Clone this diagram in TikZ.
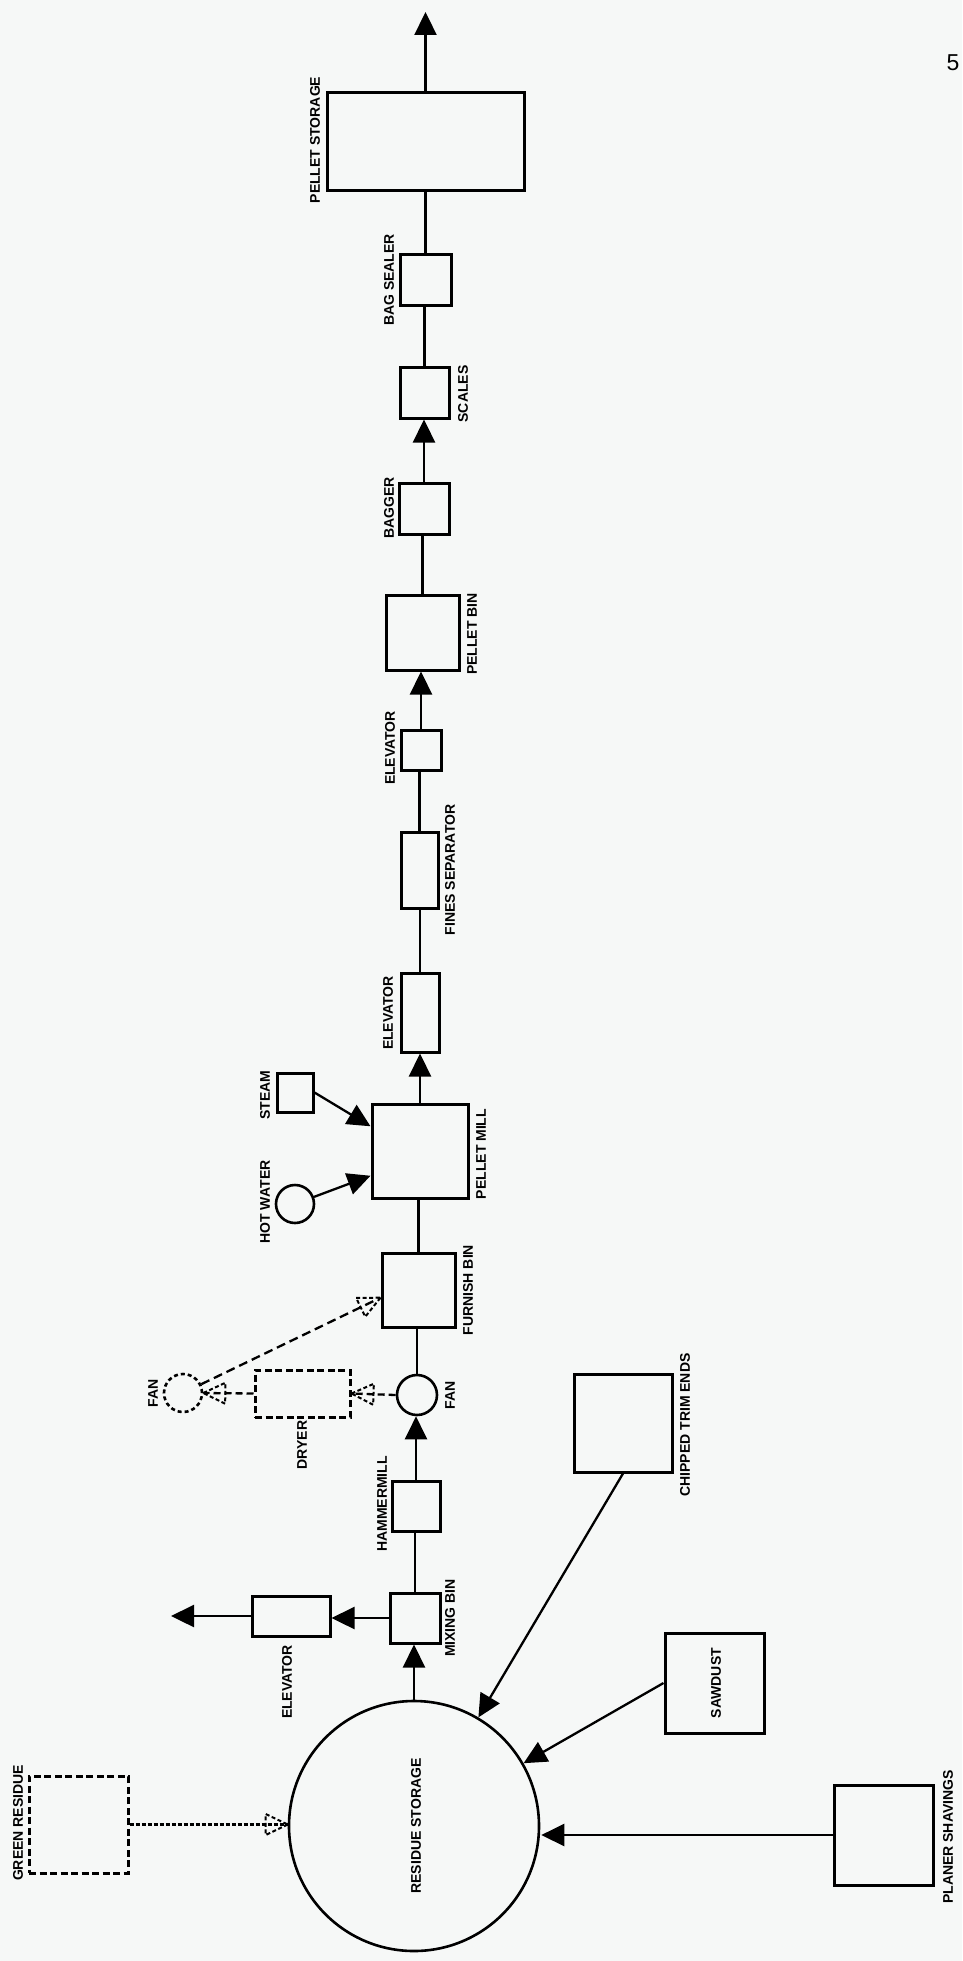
\documentclass[tikz,border=0pt]{standalone}
\usepackage{fontspec}
\setmainfont{Liberation Sans}
\usetikzlibrary{arrows.meta,decorations.markings,calc}
\definecolor{paper}{RGB}{246,248,247}
\begin{document}
\begin{tikzpicture}[x=1pt,y=-1pt,
  box/.style={draw,line width=3pt,rectangle,inner sep=0pt},
  ring/.style={draw,line width=2.6pt,circle,inner sep=0pt},
  lbl/.style={font=\bfseries\fontsize{14}{14}\selectfont,rotate=90,inner sep=0pt},
  flow/.style={line width=2.3pt},
  arr/.style={line width=2.3pt,-{Triangle[length=23pt,width=22pt]}},
  dline/.style={line width=2.3pt,dash pattern=on 7pt off 4pt},
  dtip/.style={postaction={decorate,decoration={markings,mark=at position 1 with {\draw[line width=2pt,dash pattern=on 4pt off 2.5pt] (0,0)--(-22,10.5)--(-22,-10.5)--cycle;}}}}
]
\fill[paper] (0,0) rectangle (962,1961);
\useasboundingbox (0,0) rectangle (962,1961);

% ---- main product chain ----
\node[box,minimum width=197pt,minimum height=98pt] (store) at (425.5,142) {};
\node[box,minimum width=51pt,minimum height=50pt] (sealer) at (425.5,280) {};
\node[box,minimum width=49pt,minimum height=51pt] (scales) at (424.5,392.5) {};
\node[box,minimum width=50pt,minimum height=51pt] (bagger) at (424,508.5) {};
\node[box,minimum width=73pt,minimum height=75pt] (pbin) at (422.5,632.5) {};
\node[box,minimum width=40pt,minimum height=40pt] (elevA) at (421,750) {};
\node[box,minimum width=37pt,minimum height=76pt] (fines) at (419.5,870) {};
\node[box,minimum width=38pt,minimum height=79pt] (elevB) at (420,1012.5) {};
\node[box,minimum width=36pt,minimum height=39pt] (steam) at (295,1092.5) {};
\node[box,minimum width=96pt,minimum height=94pt] (pmill) at (420,1151) {};
\node[ring,minimum size=38pt] (hotw) at (295,1204) {};
\node[box,minimum width=73pt,minimum height=74pt] (fbin) at (418.5,1290) {};
\node[ring,minimum size=40pt] (fan) at (417,1395) {};
\node[box,dash pattern=on 7pt off 3.5pt,minimum width=95pt,minimum height=47pt] (dryer) at (302.5,1393.5) {};
\node[ring,dash pattern=on 4pt off 3pt,minimum size=38pt] (dfan) at (183,1393) {};
\node[box,minimum width=48pt,minimum height=50pt] (hmill) at (416,1506) {};
\node[box,minimum width=50pt,minimum height=50pt] (mbin) at (415,1618) {};
\node[box,minimum width=78pt,minimum height=40pt] (elevC) at (291,1616) {};
\node[ring,minimum size=250pt] (res) at (414,1826) {};
\node[box,dash pattern=on 7pt off 3.5pt,minimum width=99pt,minimum height=97pt] (green) at (78.5,1824.5) {};
\node[box,minimum width=98pt,minimum height=98pt] (chip) at (623,1423) {};
\node[box,minimum width=99pt,minimum height=100pt] (saw) at (714.5,1683) {};
\node[box,minimum width=99pt,minimum height=100pt] (plan) at (883.5,1835) {};

\coordinate (storeout) at (425.5,12);
\coordinate (elevout) at (171,1616);

% ---- labels ----
\node[lbl] (lstore) at (315,140) {PELLET STORAGE};
\node[lbl] (lsealer) at (389,280) {BAG SEALER};
\node[lbl] (lscales) at (463,394) {SCALES};
\node[lbl] (lbagger) at (389,508) {BAGGER};
\node[lbl] (lpbin) at (472,634) {PELLET BIN};
\node[lbl] (lelevA) at (390,748) {ELEVATOR};
\node[lbl] (lfines) at (450,870) {FINES SEPARATOR};
\node[lbl] (lelevB) at (388,1013) {ELEVATOR};
\node[lbl] (lsteam) at (265,1095) {STEAM};
\node[lbl] (lpmill) at (481,1154) {PELLET MILL};
\node[lbl] (lhotw) at (265,1202) {HOT WATER};
\node[lbl] (lfbin) at (468,1290) {FURNISH BIN};
\node[lbl] (lfan) at (450,1395) {FAN};
\node[lbl] (ldryer) at (302,1445) {DRYER};
\node[lbl] (ldfan) at (153,1393) {FAN};
\node[lbl] (lhmill) at (382,1504) {HAMMERMILL};
\node[lbl] (lmbin) at (450,1618) {MIXING BIN};
\node[lbl] (lelevC) at (287,1682) {ELEVATOR};
\node[lbl] (lchip) at (685,1425) {CHIPPED TRIM ENDS};
\node[lbl] (lsaw) at (716,1683) {SAWDUST};
\node[lbl] (lres) at (416,1826) {RESIDUE STORAGE};
\node[lbl] (lgreen) at (18,1823) {GREEN RESIDUE};
\node[lbl] (lplan) at (948,1837) {PLANER SHAVINGS};
\node[font=\fontsize{23}{23}\selectfont,inner sep=0pt] (pagenum) at (953,63) {5};

% ---- connectors ----
\draw[arr] (store.north) -- (storeout);
\draw[flow] (sealer.north) -- (sealer.north |- store.south);
\draw[flow] (scales.north) -- (scales.north |- sealer.south);
\draw[arr] (bagger.north) -- (bagger.north |- scales.south);
\draw[flow] (pbin.north) -- (pbin.north |- bagger.south);
\draw[arr] (elevA.north) -- (elevA.north |- pbin.south);
\draw[flow] (fines.north) -- (fines.north |- elevA.south);
\draw[flow] (elevB.north) -- (elevB.north |- fines.south);
\draw[arr] (pmill.north) -- (pmill.north |- elevB.south);
\draw[arr] (steam.east) -- ($(pmill.north west)!0.245!(pmill.south west)$);
\draw[arr] (hotw) -- ($(pmill.north west)!0.755!(pmill.south west)$);
\draw[flow] (fbin.north) -- (fbin.north |- pmill.south);
\draw[flow] (fan.north) -- (fan.north |- fbin.south);
\draw[arr] (hmill.north) -- (hmill.north |- fan.south);
\draw[flow] (mbin.north) -- (mbin.north |- hmill.south);
\draw[arr] (res.north) -- (res.north |- mbin.south);
\draw[arr] (mbin.west) -- (mbin.west -| elevC.east);
\draw[arr] (elevC.west) -- (elevout);

\draw[dline,dtip] (fan.west) -- (dryer.east);
\draw[dline,dtip] (dryer.west) -- (dfan.east);
\draw[line width=2.3pt,dash pattern=on 9pt off 5pt,dtip] (dfan) -- ($(fbin.north west)!0.6!(fbin.south west)$);
\draw[line width=2.3pt,dash pattern=on 4pt off 2pt,dtip] (green.east) -- (green.east -| res.west);

\draw[arr] (chip.south) -- (res);
\draw[arr] (saw.west) -- (res);
\draw[arr] (plan.west) -- ([xshift=1pt]plan.west -| res.east);
\end{tikzpicture}
\end{document}
